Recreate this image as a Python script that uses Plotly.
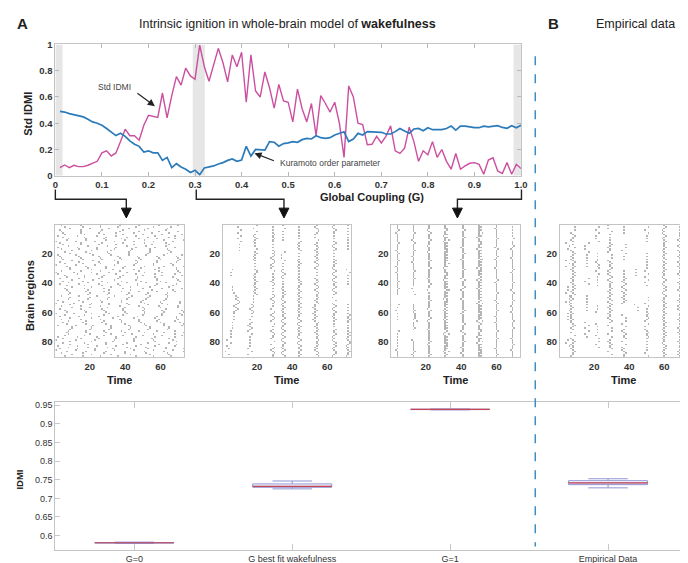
import plotly.graph_objects as go

# ---------------- data ----------------
G_COUPLING = [
    0.01, 0.02, 0.03, 0.04, 0.05, 0.06, 0.07, 0.08, 0.09, 0.10,
    0.11, 0.12, 0.13, 0.14, 0.15, 0.16, 0.17, 0.18, 0.19, 0.20,
    0.21, 0.22, 0.23, 0.24, 0.25, 0.26, 0.27, 0.28, 0.29, 0.30,
    0.31, 0.32, 0.33, 0.34, 0.35, 0.36, 0.37, 0.38, 0.39, 0.40,
    0.41, 0.42, 0.43, 0.44, 0.45, 0.46, 0.47, 0.48, 0.49, 0.50,
    0.51, 0.52, 0.53, 0.54, 0.55, 0.56, 0.57, 0.58, 0.59, 0.60,
    0.61, 0.62, 0.63, 0.64, 0.65, 0.66, 0.67, 0.68, 0.69, 0.70,
    0.71, 0.72, 0.73, 0.74, 0.75, 0.76, 0.77, 0.78, 0.79, 0.80,
    0.81, 0.82, 0.83, 0.84, 0.85, 0.86, 0.87, 0.88, 0.89, 0.90,
    0.91, 0.92, 0.93, 0.94, 0.95, 0.96, 0.97, 0.98, 0.99, 1.00]

STD_IDMI = [
    0.062, 0.082, 0.062, 0.080, 0.070, 0.070, 0.080, 0.095, 0.110, 0.174,
    0.190, 0.150, 0.174, 0.260, 0.355, 0.305, 0.305, 0.270, 0.385, 0.460,
    0.455, 0.445, 0.630, 0.440, 0.610, 0.755, 0.690, 0.820, 0.760, 0.735,
    0.995, 0.830, 0.720, 0.845, 0.970, 0.860, 0.715, 0.920, 0.830, 0.940,
    0.560, 0.920, 0.645, 0.600, 0.790, 0.670, 0.515, 0.695, 0.570, 0.560,
    0.410, 0.660, 0.510, 0.410, 0.550, 0.305, 0.610, 0.550, 0.485, 0.560,
    0.400, 0.140, 0.684, 0.600, 0.400, 0.390, 0.236, 0.240, 0.300, 0.250,
    0.300, 0.380, 0.190, 0.170, 0.210, 0.370, 0.260, 0.110, 0.190, 0.160,
    0.260, 0.140, 0.200, 0.110, 0.050, 0.170, 0.050, 0.075, 0.095, 0.100,
    0.087, 0.012, 0.120, 0.137, 0.037, 0.017, 0.100, 0.012, 0.087, 0.055]

KURAMOTO = [
    0.490, 0.485, 0.473, 0.465, 0.460, 0.448, 0.430, 0.410, 0.400, 0.385,
    0.360, 0.335, 0.306, 0.323, 0.300, 0.266, 0.240, 0.224, 0.180, 0.190,
    0.175, 0.175, 0.117, 0.140, 0.062, 0.092, 0.067, 0.050, 0.025, 0.042,
    0.008, 0.060, 0.067, 0.075, 0.090, 0.100, 0.117, 0.128, 0.110, 0.120,
    0.224, 0.150, 0.200, 0.200, 0.195, 0.260, 0.255, 0.225, 0.245, 0.250,
    0.260, 0.255, 0.275, 0.285, 0.280, 0.305, 0.290, 0.285, 0.290, 0.310,
    0.325, 0.335, 0.260, 0.280, 0.323, 0.310, 0.336, 0.336, 0.336, 0.331,
    0.318, 0.318, 0.336, 0.360, 0.341, 0.323, 0.356, 0.360, 0.343, 0.366,
    0.351, 0.351, 0.351, 0.360, 0.378, 0.348, 0.378, 0.378, 0.371, 0.366,
    0.366, 0.378, 0.373, 0.378, 0.381, 0.368, 0.361, 0.381, 0.366, 0.385]

HIGHLIGHT_G = [(0.0, 0.0155), (0.295, 0.321), (0.984, 1.0)]

X_TICKS = [0, 0.1, 0.2, 0.3, 0.4, 0.5, 0.6, 0.7, 0.8, 0.9, 1.0]
X_TICKTEXT = ["0", "0.1", "0.2", "0.3", "0.4", "0.5", "0.6", "0.7", "0.8", "0.9", "1.0"]
Y_TICKS = [0, 0.2, 0.4, 0.6, 0.8, 1.0]
Y_TICKTEXT = ["0", "0.2", "0.4", "0.6", "0.8", "1"]

# raster (event) matrices: 90 brain regions x 73 time points
RASTER_N = 90
RASTER_T = 73
RASTER_X_TICKS = [20, 40, 60]
RASTER_Y_TICKS = [20, 40, 60, 80]

# G = 0: independent regions, per-region first event and inter-event interval (hex digits)
G0_PHASE = ["3582345147", "6024713958", "1234925068", "8301562947", "2695678738",
            "7140839256", "0528374619", "9876751408", "4817206395"]
G0_PERIOD = ["babcbabbca", "bbcabbabcb", "abbbcbabba", "cbabbabcbb", "babbcabbab",
             "bcbabbacbb", "abbcbabbab", "bbabcbbabc", "cabbabbcba"]

# stripe panels: stripe times, and per 6-region block: '.' none, letter = offset (d=0),
# upper case = sparse participation
G03_TIMES = [6, 10, 19, 29, 35, 44, 54, 64, 72]
G03_BLOCKS = [".....C.DgfEDCBA", "DDD............", "DdDdDdddCbBaAAA",
              "DdDddDdDdDdDdDd", "DD.DDdDdddddddd", "DDdDdDddddddddd",
              "dDdddDdddccdddd", "dDdDddddDddDddd", "DDD..DD..DdDddd"]
G03_JITTER = ["1210121101", "2101210121", "1012101211", "2112101012", "1210122101",
              "0121101210", "1210121012", "1012121101", "2101210121"]

G1_TIMES = [4, 13, 22, 31, 32, 41, 50, 51, 60, 69]
G1_BLOCKS = ["dddddddd.DD.DDd", "dddddddD.ded.dd", "dddddddDddddddd",
             "ddddddddddddddd", "DDDDDDDDDDDDDDD", "ddddddddddddddd",
             "ddddddddddddddd", "DDDDDDDDDDDDDDD", "ddddddddddddddd",
             "DDddddddddddddd"]
G1_JITTER = ["1112101111", "1121111012", "1111211101", "1101111121", "1112111111",
             "0111211101", "1111121111", "1021111210", "1111101111"]

EMP_TIMES = [5, 8, 16, 22, 29, 37, 44, 50, 60, 69]
EMP_BLOCKS = ["..D.D..DD.D..D.", "DdDdddddcccdDdd", "..DDD.D.DD.DD..",
              "DD.DdDD..D.DDD.", "DDdDdddddddDDdD", "D.DD.Dddd.DDdDd",
              ".....D...D.....", "DD.DDDD.DDdDdDD", "ddddddddddddddd",
              "Ddddddddddddddd"]
EMP_JITTER = ["1012110121", "2101211012", "1121012101", "0121121012", "1210110121",
              "2101211210", "1012101211", "1210121012", "0121012101"]

# box plot summary (IDMI)
CATEGORIES = ["G=0", "G best fit wakefulness", "G=1", "Empirical Data"]
BOX_LOWER = [0.5790, 0.7255, 0.9375, 0.7282]
BOX_Q1 = [0.5800, 0.7297, 0.9383, 0.7368]
BOX_MEDIAN = [0.5808, 0.7324, 0.9388, 0.7413]
BOX_Q3 = [0.5815, 0.7387, 0.9393, 0.7474]
BOX_UPPER = [0.5825, 0.7466, 0.9400, 0.7526]
BOX_Y_TICKS = [0.6, 0.65, 0.7, 0.75, 0.8, 0.85, 0.9, 0.95]
BOX_Y_TICKTEXT = ["0.6", "0.65", "0.7", "0.75", "0.8", "0.85", "0.9", "0.95"]

assert len(G_COUPLING) == len(STD_IDMI) == len(KURAMOTO) == 100

# ---------------- helpers ----------------
W, H = 688, 563
FONT = "Liberation Sans, Arial, Helvetica, sans-serif"


def px(x):
    return x / W


def py(y):
    return 1 - y / H


def blank():
    return [[0] * RASTER_T for _ in range(RASTER_N)]


def periodic_raster(phase_rows, period_rows):
    z = blank()
    phase = "".join(phase_rows)
    period = "".join(period_rows)
    for r in range(RASTER_N):
        t = int(phase[r]) + 1
        step = int(period[r], 16)
        while t <= RASTER_T:
            z[r][t - 1] = 1
            t += step
    return z


def stripe_raster(times, blocks, jitter_rows):
    z = blank()
    jit = "".join(jitter_rows)
    for s, (t0, b) in enumerate(zip(times, blocks)):
        for j, c in enumerate(b):
            if c == ".":
                continue
            sparse = c.isupper()
            off = ord(c.lower()) - ord("d")
            for r in range(6 * j, min(6 * j + 6, RASTER_N)):
                if sparse and (r + s) % 2:
                    continue
                t = t0 + off + int(jit[(r + 7 * s) % RASTER_N]) - 1
                if 1 <= t <= RASTER_T:
                    z[r][t - 1] = 1
    return z


RASTERS = [
    periodic_raster(G0_PHASE, G0_PERIOD),
    stripe_raster(G03_TIMES, G03_BLOCKS, G03_JITTER),
    stripe_raster(G1_TIMES, G1_BLOCKS, G1_JITTER),
    stripe_raster(EMP_TIMES, EMP_BLOCKS, EMP_JITTER),
]
PANEL_PX = [(45, 176), (215, 345), (386, 517), (557, 687)]

# ---------------- figure ----------------
fig = go.Figure()

fig.add_trace(go.Scatter(x=G_COUPLING, y=STD_IDMI, mode="lines",
                         line=dict(color="#cc4f9f", width=1.4),
                         xaxis="x", yaxis="y", showlegend=False, hoverinfo="skip"))
fig.add_trace(go.Scatter(x=G_COUPLING, y=KURAMOTO, mode="lines",
                         line=dict(color="#2b7bba", width=1.7),
                         xaxis="x", yaxis="y", showlegend=False, hoverinfo="skip"))

for i, z in enumerate(RASTERS):
    fig.add_trace(go.Heatmap(
        z=z, x=list(range(1, RASTER_T + 1)), y=list(range(1, RASTER_N + 1)),
        colorscale=[[0, "#ffffff"], [1, "#b4b4b4"]], zmin=0, zmax=1,
        showscale=False, xaxis="x%d" % (i + 2), yaxis="y%d" % (i + 2),
        hoverinfo="skip"))

BOX_LINE = "#8e95d2"
for k, cat in enumerate(CATEGORIES):
    fig.add_trace(go.Box(
        x=[k + 1], q1=[BOX_Q1[k]], median=[BOX_MEDIAN[k]], q3=[BOX_Q3[k]],
        lowerfence=[BOX_LOWER[k]], upperfence=[BOX_UPPER[k]],
        width=0.5, whiskerwidth=0.5, boxpoints=False,
        line=dict(color=BOX_LINE, width=1), fillcolor="rgba(0,0,0,0)",
        xaxis="x6", yaxis="y6", showlegend=False, hoverinfo="skip"))

med_x, med_y = [], []
for k in range(len(CATEGORIES)):
    med_x += [k + 1 - 0.25, k + 1 + 0.25, None]
    med_y += [BOX_MEDIAN[k], BOX_MEDIAN[k], None]
fig.add_trace(go.Scatter(x=med_x, y=med_y, mode="lines",
                         line=dict(color="#c94654", width=1.2),
                         xaxis="x6", yaxis="y6", showlegend=False, hoverinfo="skip"))


def axis(**kw):
    base = dict(showline=True, linecolor="#c4c4c4", linewidth=1, mirror=True,
                showgrid=False, zeroline=False, ticks="",
                tickfont=dict(family=FONT, size=9.5, color="#333333", weight="bold"))
    base.update(kw)
    return base


layout = dict(
    width=W, height=H, autosize=False,
    margin=dict(l=0, r=0, t=0, b=0),
    paper_bgcolor="white", plot_bgcolor="white",
    font=dict(family=FONT, color="#222"),
    xaxis=axis(domain=[px(45), px(517.5)], range=[0, 1], anchor="y",
               tickvals=X_TICKS, ticktext=X_TICKTEXT, ticks="inside", ticklen=4,
               tickcolor="#b8b8b8", mirror="ticks"),
    yaxis=axis(domain=[py(165), py(31)], range=[0, 1], anchor="x",
               tickvals=Y_TICKS, ticktext=Y_TICKTEXT, ticks="inside", ticklen=4,
               tickcolor="#b8b8b8", mirror="ticks"),
    xaxis6=axis(domain=[px(45), px(686)], range=[0.5, 4.5], anchor="y6",
                tickvals=[1, 2, 3, 4], ticktext=CATEGORIES, ticks="inside",
                ticklen=6, tickcolor="#c8c8c8", mirror="ticks",
                tickfont=dict(family=FONT, size=9, color="#333333")),
    yaxis6=axis(domain=[py(547), py(396)], range=[0.5605, 0.958], anchor="x6",
                tickvals=BOX_Y_TICKS, ticktext=BOX_Y_TICKTEXT, ticks="inside",
                ticklen=5, tickcolor="#c8c8c8", mirror="ticks",
                tickfont=dict(family=FONT, size=9, color="#333333")),
)
for i, (l, r) in enumerate(PANEL_PX):
    layout["xaxis%d" % (i + 2)] = axis(domain=[px(l), px(r)], range=[0.5, RASTER_T + 0.5],
                                       anchor="y%d" % (i + 2), tickvals=RASTER_X_TICKS)
    layout["yaxis%d" % (i + 2)] = axis(domain=[py(350), py(215)], range=[RASTER_N + 0.5, 0.5],
                                       anchor="x%d" % (i + 2), tickvals=RASTER_Y_TICKS)
fig.update_layout(**layout)

shapes = []
for g0, g1 in HIGHLIGHT_G:
    shapes.append(dict(type="rect", xref="x", yref="y", x0=g0, x1=g1, y0=0, y1=1,
                       fillcolor="#e6e6e6", line=dict(width=0), layer="below"))
# separator between model and empirical data
shapes.append(dict(type="line", xref="paper", yref="paper", x0=px(532), x1=px(532),
                   y0=py(43), y1=py(543), line=dict(color="#3b8ec2", width=1.5, dash="dash")))
# brackets linking G values to raster panels
for xs, xe in [(45, 117), (188, 277), (518, 453)]:
    shapes.append(dict(type="path", xref="paper", yref="paper",
                       path="M %f,%f L %f,%f L %f,%f L %f,%f" % (
                           px(xs), py(179), px(xs), py(189), px(xe), py(189), px(xe), py(199)),
                       line=dict(color="#222", width=1.4)))
    shapes.append(dict(type="path", xref="paper", yref="paper",
                       path="M %f,%f L %f,%f L %f,%f Z" % (
                           px(xe - 5), py(198), px(xe + 5), py(198), px(xe), py(208)),
                       fillcolor="#111", line=dict(color="#111", width=1)))
fig.update_layout(shapes=shapes)

ann = []


def text(x, y, s, size, bold=False, angle=0, xanchor="center", color="#222"):
    ann.append(dict(x=px(x), y=py(y), xref="paper", yref="paper", text=s,
                    showarrow=False, xanchor=xanchor, yanchor="middle", textangle=angle,
                    font=dict(family=FONT, size=size, color=color,
                              weight="bold" if bold else "normal")))


text(12, 10, "A", 15, bold=True)
text(281, 10, "Intrinsic ignition in whole-brain model of <b>wakefulness</b>", 12.5)
text(551, 10, "B", 15, bold=True)
text(634, 10, "Empirical data", 12.5)
text(17, 102, "Std IDMI", 11, bold=True, angle=-90)
text(366, 187, "Global Coupling (G)", 11, bold=True)
text(105, 74, "Std IDMI", 8.5, color="#444")
text(271, 152, "Kuramoto order parameter", 8.5, xanchor="left", color="#444")
text(20, 287, "Brain regions", 11, bold=True, angle=-90)
for l, r in PANEL_PX:
    text((l + r) / 2, 373, "Time", 11, bold=True)
text(9, 475, "IDMI", 9.5, bold=True, angle=-90)

for (hx, hy), (tx, ty) in [((146, 94), (127, 80)), ((247, 142), (268, 150))]:
    ann.append(dict(x=px(hx), y=py(hy), xref="paper", yref="paper", text="",
                    showarrow=True, ax=tx - hx, ay=ty - hy, axref="pixel", ayref="pixel",
                    arrowhead=2, arrowsize=1.3, arrowwidth=1.1, arrowcolor="#222"))
fig.update_layout(annotations=ann)

fig.write_html("out.html")
